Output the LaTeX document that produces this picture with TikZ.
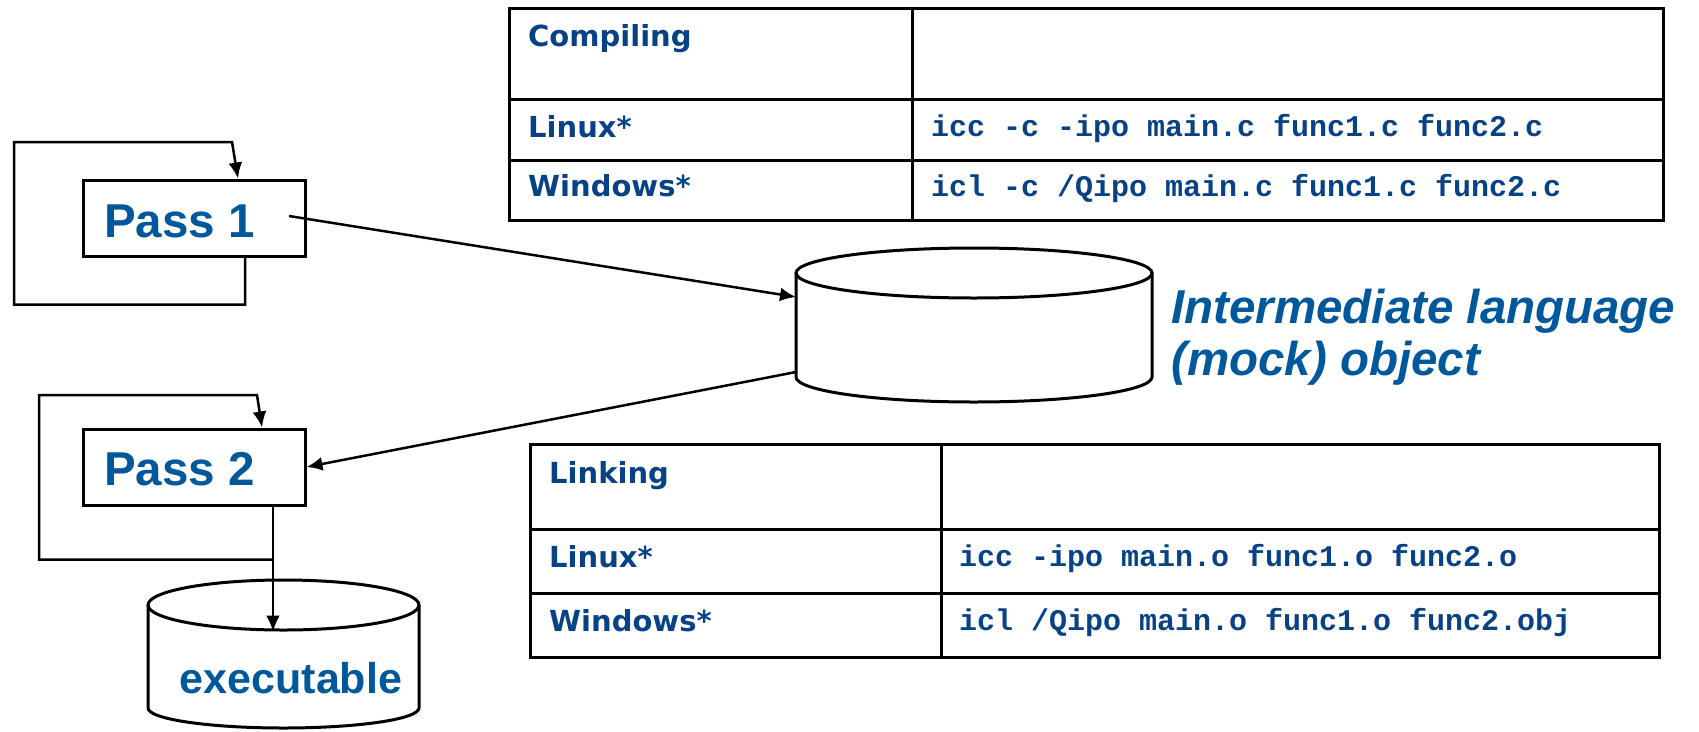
\documentclass[tikz,border=0pt]{standalone}
\usepackage{fontspec}
\setmainfont{Liberation Sans}
\newfontfamily\labfont{DejaVu Sans}
\newfontfamily\cmdfont{Liberation Mono}
\usetikzlibrary{arrows.meta,calc}
\definecolor{passblue}{RGB}{0,88,156}
\definecolor{tabblue}{RGB}{8,66,134}
\begin{document}
\begin{tikzpicture}[x=1pt,y=-1pt,
  ln/.style={line width=3pt},
  arr/.style={line width=2.5pt,-{Latex[length=16pt,width=14pt]}},
  passbox/.style={draw,line width=3pt,minimum width=222pt,minimum height=76pt,inner sep=0pt,fill=white},
  hidden/.style={inner sep=0pt,outer sep=0pt},
  passtxt/.style={font=\fontsize{47.5}{56}\selectfont\bfseries,text=passblue,inner sep=0pt,anchor=base west},
  bigtxt/.style={font=\fontsize{47.5}{54}\selectfont\bfseries\itshape,text=passblue,inner sep=0pt,anchor=base west},
  exetxt/.style={font=\fontsize{43}{50}\selectfont\bfseries,text=passblue,inner sep=0pt,anchor=base},
  labtxt/.style={font=\labfont\fontsize{29}{34}\selectfont\bfseries,text=tabblue,inner sep=0pt,anchor=base west},
  cmdtxt/.style={font=\cmdfont\fontsize{30}{34}\selectfont\bfseries,text=tabblue,inner sep=0pt,anchor=base west}
]
\useasboundingbox (0,0) rectangle (1699,731);

% ---- Pass boxes
\node[passbox] (p1) at (194,218) {};
\node[passtxt] (p1t) at (104,237) {Pass 1};
\node[passbox] (p2) at (194,467) {};
\node[passtxt] (p2t) at (104,485) {Pass 2};

% ---- intermediate language cylinder
\node[hidden,minimum width=356pt,minimum height=154pt] (il) at (974,325) {};
\draw[ln,fill=white] (796,273) -- (796,377) arc[start angle=180,end angle=360,x radius=178pt,y radius=25pt] -- (1152,273);
\draw[ln] (974,273) ellipse[x radius=178pt,y radius=25pt];
\node[bigtxt] (ilt1) at (1171,323) {Intermediate language};
\node[bigtxt] (ilt2) at (1171,375) {(mock) object};

% ---- executable cylinder
\node[hidden,minimum width=271pt,minimum height=151pt] (exe) at (283.5,655.5) {};
\draw[ln,fill=white] (148,605) -- (148,708) arc[start angle=180,end angle=360,x radius=135.5pt,y radius=20pt] -- (419,605);
\draw[ln] (283.5,605) ellipse[x radius=135.5pt,y radius=25pt];
\node[exetxt] (exet) at (291,693) {executable};

% ---- loops
\draw[arr] ([xshift=51pt]p1.south) -- ++(0,47) -| (14,142) -- (232,142) -- ([xshift=44pt]p1.north);
\draw[arr] ([shift={(79pt,-53pt)}]p2.south) -| (39,395) -- (257,395) -- ([xshift=68pt]p2.north);
\draw[arr] ([xshift=79pt]p2.south) -- ++(0,125);

% ---- connectors to/from IL
\draw[arr] ([shift={(95pt,2pt)}]p1.center) -- ([yshift=28pt]il.west);
\draw[arr] ([yshift=-47pt]il.west) -- (p2.east);

% ---- compiling table
\draw[ln] (509,8) rectangle (1663,220);
\draw[ln] (912,8) -- (912,220) (509,99) -- (1663,99) (509,160) -- (1663,160);
\node[labtxt] (c1) at (528,46) {Compiling};
\node[labtxt] (c2) at (528,137) {Linux*};
\node[labtxt] (c3) at (528,196) {Windows*};
\node[cmdtxt] (c4) at (931,136) {icc -c -ipo main.c func1.c func2.c};
\node[cmdtxt] (c5) at (931,196) {icl -c /Qipo main.c func1.c func2.c};

% ---- linking table
\draw[ln] (530,444) rectangle (1659,657);
\draw[ln] (941,444) -- (941,657) (530,529) -- (1659,529) (530,593) -- (1659,593);
\node[labtxt] (l1) at (549,483) {Linking};
\node[labtxt] (l2) at (549,567) {Linux*};
\node[labtxt] (l3) at (549,631) {Windows*};
\node[cmdtxt] (l4) at (959,566) {icc -ipo main.o func1.o func2.o};
\node[cmdtxt] (l5) at (959,630) {icl /Qipo main.o func1.o func2.obj};
\end{tikzpicture}
\end{document}
